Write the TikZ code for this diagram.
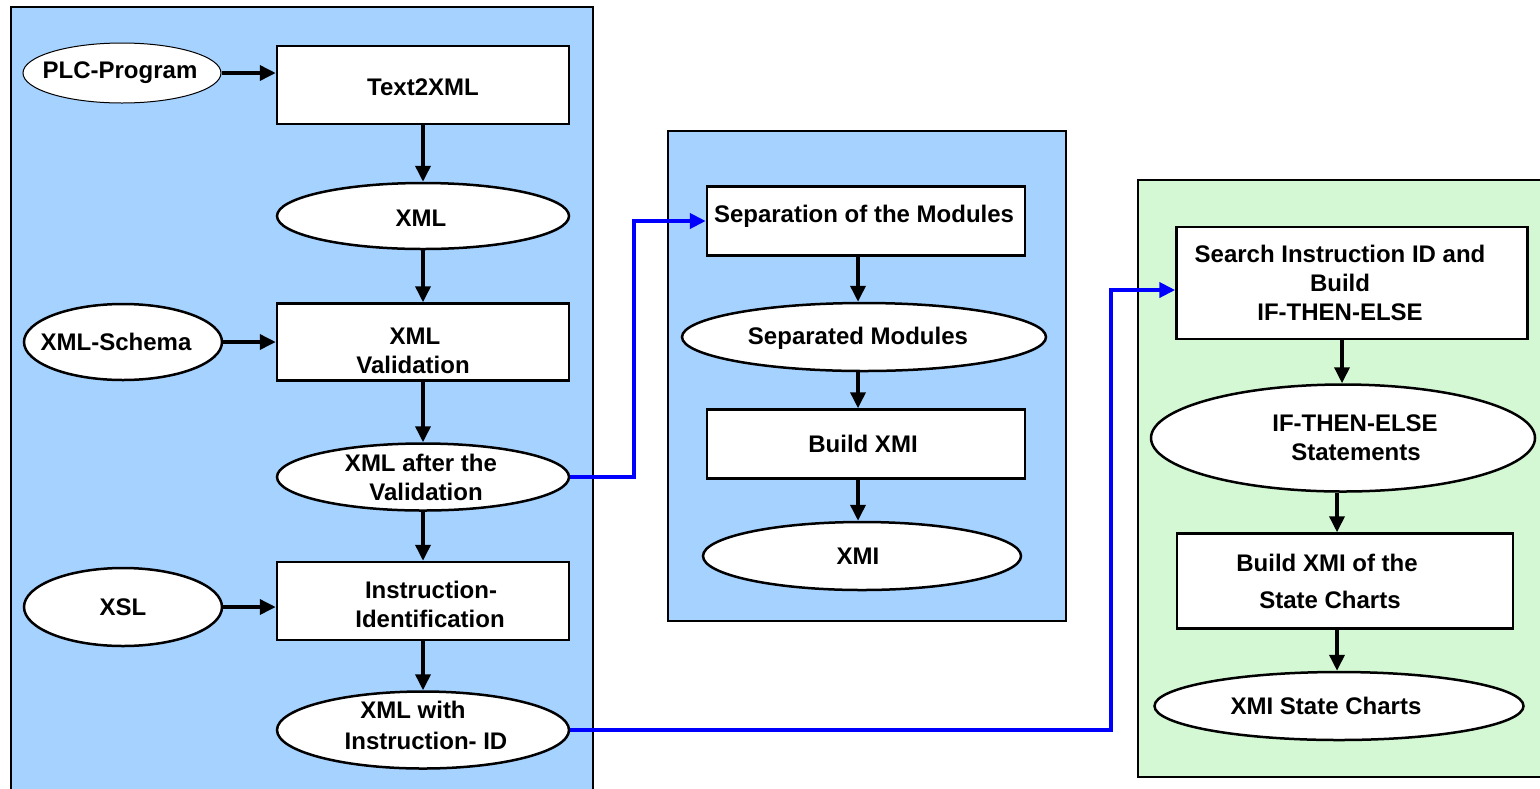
\documentclass[tikz,border=0pt]{standalone}
\usepackage{fontspec}
\setmainfont{Liberation Sans}
\usetikzlibrary{shapes.geometric,arrows.meta}
\definecolor{panelblue}{RGB}{166,210,255}
\definecolor{panelgreen}{RGB}{212,248,212}
\definecolor{flowblue}{RGB}{0,0,255}
% shift a (multi-line) label vertically while keeping its natural box size
\newcommand\vshifted[2]{\raisebox{#1}[\height][\depth]{\begin{tabular}{@{}c@{}}#2\end{tabular}}}
\begin{document}
\begin{tikzpicture}[x=0.5pt,y=-0.5pt,
  every node/.style={font=\fontsize{12}{14.5}\selectfont\bfseries, align=center, inner sep=0pt},
  panel/.style={draw=black, line width=1pt},
  procbox/.style={draw=black, fill=white, line width=1.25pt, rectangle},
  datanode/.style={draw=black, fill=white, line width=1.25pt, ellipse, inner xsep=-40pt, inner ysep=-10pt},
  flow/.style={draw=black, line width=1.8pt, -{Triangle[length=8pt,width=7.5pt]}},
  link/.style={draw=flowblue, line width=2.4pt, -{Triangle[length=8pt,width=7.5pt]}}
]
\clip (0,0) rectangle (1540,788);
\fill[white] (0,0) rectangle (1540,788);

% panels
\draw[panel, fill=panelblue] (11,7) rectangle (593,820);
\draw[panel, fill=panelblue] (668,131) rectangle (1066,621);
\draw[panel, fill=panelgreen] (1138,180) rectangle (1600,777);

% left column: parsing and validation
\node[datanode, line width=0.5pt, minimum width=99pt, minimum height=30pt] (plc) at (122,73) {\hspace*{-2pt}PLC-Program};
\node[procbox, minimum width=146pt, minimum height=39pt] (t2x) at (423,85) {\vshifted{-2.5pt}{Text2XML}};
\node[datanode, minimum width=146pt, minimum height=33pt] (xml) at (423,216) {\vshifted{-2.5pt}{\hspace*{-2pt}XML}};
\node[datanode, minimum width=99pt, minimum height=38pt] (xsd) at (123,342) {\hspace*{-7pt}XML-Schema};
\node[procbox, minimum width=146pt, minimum height=38.5pt] (val) at (423,342) {\vshifted{-5.5pt}{\hspace*{-8pt}XML\\\hspace*{-10pt}Validation}};
\node[datanode, minimum width=146pt, minimum height=33.5pt] (xav) at (423,477) {\hspace*{-2pt}XML after the\\\hspace*{3pt}Validation};
\node[datanode, minimum width=99pt, minimum height=39pt] (xsl) at (123,607) {XSL};
\node[procbox, minimum width=146pt, minimum height=39pt] (iid) at (423,601) {\vshifted{-3pt}{\hspace*{8pt}Instruction-\\\hspace*{7pt}Identification}};
\node[datanode, minimum width=146pt, minimum height=38.5pt] (xid) at (423,730) {\vshifted{1pt}{\hspace*{-10pt}XML with\\[1pt]\hspace*{3pt}Instruction- ID}};

% middle column: module separation
\node[procbox, minimum width=159pt, minimum height=34.5pt] (sep) at (866,221) {\vshifted{2pt}{\hspace*{-2pt}Separation of the Modules}};
\node[datanode, minimum width=182pt, minimum height=34pt] (smod) at (864,337) {\vshifted{-1pt}{\hspace*{-6pt}Separated Modules}};
\node[procbox, minimum width=159pt, minimum height=34.5pt] (bxmi) at (866,444) {\hspace*{-3pt}Build XMI};
\node[datanode, minimum width=159pt, minimum height=34pt] (xmi) at (862,556) {\hspace*{-4pt}XMI};

% right column: state chart generation
\node[procbox, minimum width=175.5pt, minimum height=56pt, font=\fontsize{12}{14.3}\selectfont\bfseries] (srch) at (1352,283) {\hspace*{-12pt}Search Instruction ID and\\\hspace*{-12pt}Build\\\hspace*{-12pt}IF-THEN-ELSE};
\node[datanode, minimum width=192pt, minimum height=53.5pt] (ite) at (1343,438) {\hspace*{12pt}IF-THEN-ELSE\\\hspace*{13pt}Statements};
\node[procbox, minimum width=168pt, minimum height=47.5pt, font=\fontsize{12}{18.5}\selectfont\bfseries] (bsc) at (1345,581) {\hspace*{-18pt}Build XMI of the\\\hspace*{-15pt}State Charts};
\node[datanode, minimum width=184.5pt, minimum height=34pt] (xsc) at (1339,706) {\hspace*{-13pt}XMI State Charts};

% flow within the columns
\draw[flow] (plc.east) -- (plc.east -| t2x.west);
\draw[flow] (t2x.south) -- (xml.north);
\draw[flow] (xml.south) -- (val.north);
\draw[flow] (xsd.east) -- (xsd.east -| val.west);
\draw[flow] (val.south) -- (xav.north);
\draw[flow] (xav.south) -- (iid.north);
\draw[flow] (xsl.east) -- (xsl.east -| iid.west);
\draw[flow] (iid.south) -- (xid.north);

\coordinate (mcol) at (858,0);
\draw[flow] (sep.south -| mcol) -- (smod.north -| mcol);
\draw[flow] (smod.south -| mcol) -- (bxmi.north -| mcol);
\draw[flow] (bxmi.south -| mcol) -- (xmi.north -| mcol);

\coordinate (rcolA) at (1342,0);
\coordinate (rcolB) at (1337,0);
\draw[flow] (srch.south -| rcolA) -- (ite.north -| rcolA);
\draw[flow] (ite.south -| rcolB) -- (bsc.north -| rcolB);
\draw[flow] (bsc.south -| rcolB) -- (xsc.north -| rcolB);

% links between the columns
\coordinate (jA) at (634,0);
\coordinate (jB) at (1111,0);
\coordinate (srchIn) at ([yshift=-3.5pt]srch.west);
\draw[link] (xav.east) -| (jA |- sep.west) -- (sep.west);
\draw[link] (xid.east) -| (jB |- srchIn) -- (srchIn);
\end{tikzpicture}
\end{document}
